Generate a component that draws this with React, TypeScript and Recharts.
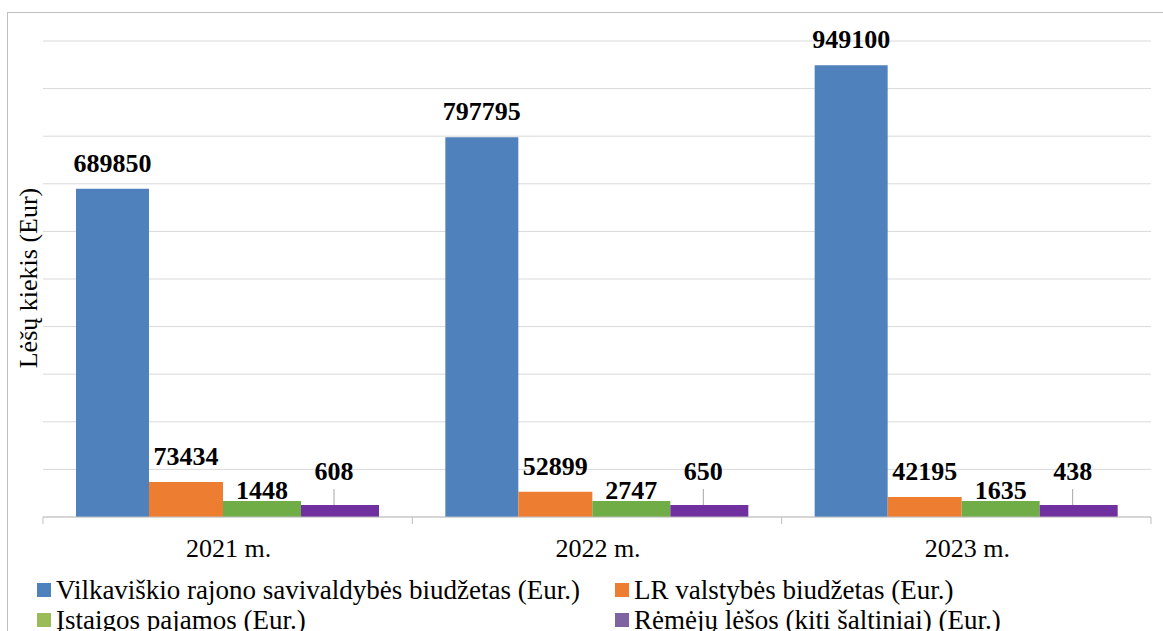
import React from 'react';
import { BarChart, Bar, XAxis, YAxis, CartesianGrid, LabelList } from 'recharts';

// Values
const years = ['2021 m.', '2022 m.', '2023 m.'];
const savivaldybe = [689850, 797795, 949100];
const valstybe = [73434, 52899, 42195];
const pajamos = [1448, 2747, 1635];
const remejai = [608, 650, 438];
const yTicks = [0, 100000, 200000, 300000, 400000, 500000, 600000, 700000, 800000, 900000, 1000000];

const seriesNames = [
    'Vilkaviškio rajono savivaldybės biudžetas (Eur.)',
    'LR valstybės biudžetas (Eur.)',
    'Įstaigos pajamos (Eur.)',
    'Rėmėjų lėšos (kiti šaltiniai) (Eur.)',
];
const barColors = ['#4F81BD', '#ED7D31', '#70AD47', '#7030A0'];
const legendColors = ['#4F81BD', '#ED7D31', '#9BBB59', '#8064A2'];

const SERIF = 'Liberation Serif';

const CHART_W = 1163;
const CHART_H = 570;
const MARGIN = { top: 41, right: 12, bottom: 8, left: 43 };
const BAND = (CHART_W - MARGIN.left - MARGIN.right) / years.length;

const chartData = years.map((year, i) => ({
    year,
    savivaldybe: savivaldybe[i],
    valstybe: valstybe[i],
    pajamos: pajamos[i],
    remejai: remejai[i],
}));

// category label with tick marks on the band edges (like Excel)
const YearTick = (props: any) => {
    const { x, y, payload, index } = props;
    const left = x - BAND / 2;
    const right = x + BAND / 2;
    return (
        <g>
            <line x1={left} x2={left} y1={y} y2={y + 7} stroke="#bfbfbf" />
            {index === years.length - 1 && <line x1={right} x2={right} y1={y} y2={y + 7} stroke="#bfbfbf" />}
            <text x={x + 1} y={y + 40} textAnchor="middle" fontFamily={SERIF} fontSize={26} fill="#000">
                {payload.value}
            </text>
        </g>
    );
};

// purple labels sit higher with a small leader line
const LeaderLabel = (props: any) => {
    const vb = props.viewBox || props;
    const cx = vb.x + vb.width / 2 - 6;
    const top = vb.y;
    return (
        <g>
            <line x1={cx} x2={cx} y1={top - 16} y2={top} stroke="#a6a6a6" />
            <text x={cx} y={top - 25} textAnchor="middle" fontFamily={SERIF} fontSize={26} fontWeight={700} fill="#000">
                {props.value}
            </text>
        </g>
    );
};

const App: React.FC = () => {
    return (
        <div style={{ position: 'fixed', left: 0, top: 0, width: 1163, height: 631, overflow: 'hidden', background: '#fff', fontFamily: SERIF }}>
            <div
                style={{
                    position: 'absolute',
                    left: 7,
                    top: 12,
                    width: 1200,
                    height: 700,
                    border: '1px solid #bfbfbf',
                }}
            />
            <div style={{ position: 'absolute', left: 0, top: 0 }}>
                <BarChart width={CHART_W} height={CHART_H} data={chartData} margin={MARGIN} barGap={0}>
                    <CartesianGrid vertical={false} stroke="#d9d9d9" />
                    <XAxis
                        dataKey="year"
                        stroke="#bfbfbf"
                        tickLine={false}
                        tickSize={0}
                        tickMargin={0}
                        height={45}
                        interval={0}
                        tick={<YearTick />}
                    />
                    <YAxis hide domain={[0, 1000000]} ticks={yTicks} />
                    <Bar dataKey="savivaldybe" fill={barColors[0]} barSize={73} isAnimationActive={false}>
                        <LabelList dataKey="savivaldybe" position="top" offset={17} fontFamily={SERIF} fontSize={26} fontWeight={700} fill="#000" />
                    </Bar>
                    <Bar dataKey="valstybe" fill={barColors[1]} barSize={74} isAnimationActive={false}>
                        <LabelList dataKey="valstybe" position="top" offset={17} fontFamily={SERIF} fontSize={26} fontWeight={700} fill="#000" />
                    </Bar>
                    <Bar dataKey="pajamos" fill={barColors[2]} barSize={78} minPointSize={16} isAnimationActive={false}>
                        <LabelList dataKey="pajamos" position="top" offset={2} fontFamily={SERIF} fontSize={26} fontWeight={700} fill="#000" />
                    </Bar>
                    <Bar dataKey="remejai" fill={barColors[3]} barSize={78} minPointSize={12} isAnimationActive={false}>
                        <LabelList dataKey="remejai" content={<LeaderLabel />} />
                    </Bar>
                </BarChart>
            </div>

            {/* y axis title */}
            <div
                style={{
                    position: 'absolute',
                    left: 29,
                    top: 278,
                    transform: 'translate(-50%, -50%) rotate(-90deg)',
                    whiteSpace: 'nowrap',
                    fontSize: 26,
                    color: '#000',
                }}
            >
                Lėšų kiekis (Eur)
            </div>

            {/* legend, two columns like the Excel original */}
            {seriesNames.map((name, i) => (
                <div
                    key={name}
                    style={{
                        position: 'absolute',
                        left: i % 2 === 0 ? 37 : 615,
                        top: i < 2 ? 576 : 606,
                        height: 28,
                        display: 'flex',
                        alignItems: 'center',
                        whiteSpace: 'nowrap',
                        fontSize: 27,
                        lineHeight: '28px',
                        color: '#000',
                    }}
                >
                    <span
                        style={{
                            display: 'inline-block',
                            width: 14,
                            height: 14,
                            background: legendColors[i],
                            marginRight: 5,
                        }}
                    />
                    {name}
                </div>
            ))}
        </div>
    );
};

export default App;
